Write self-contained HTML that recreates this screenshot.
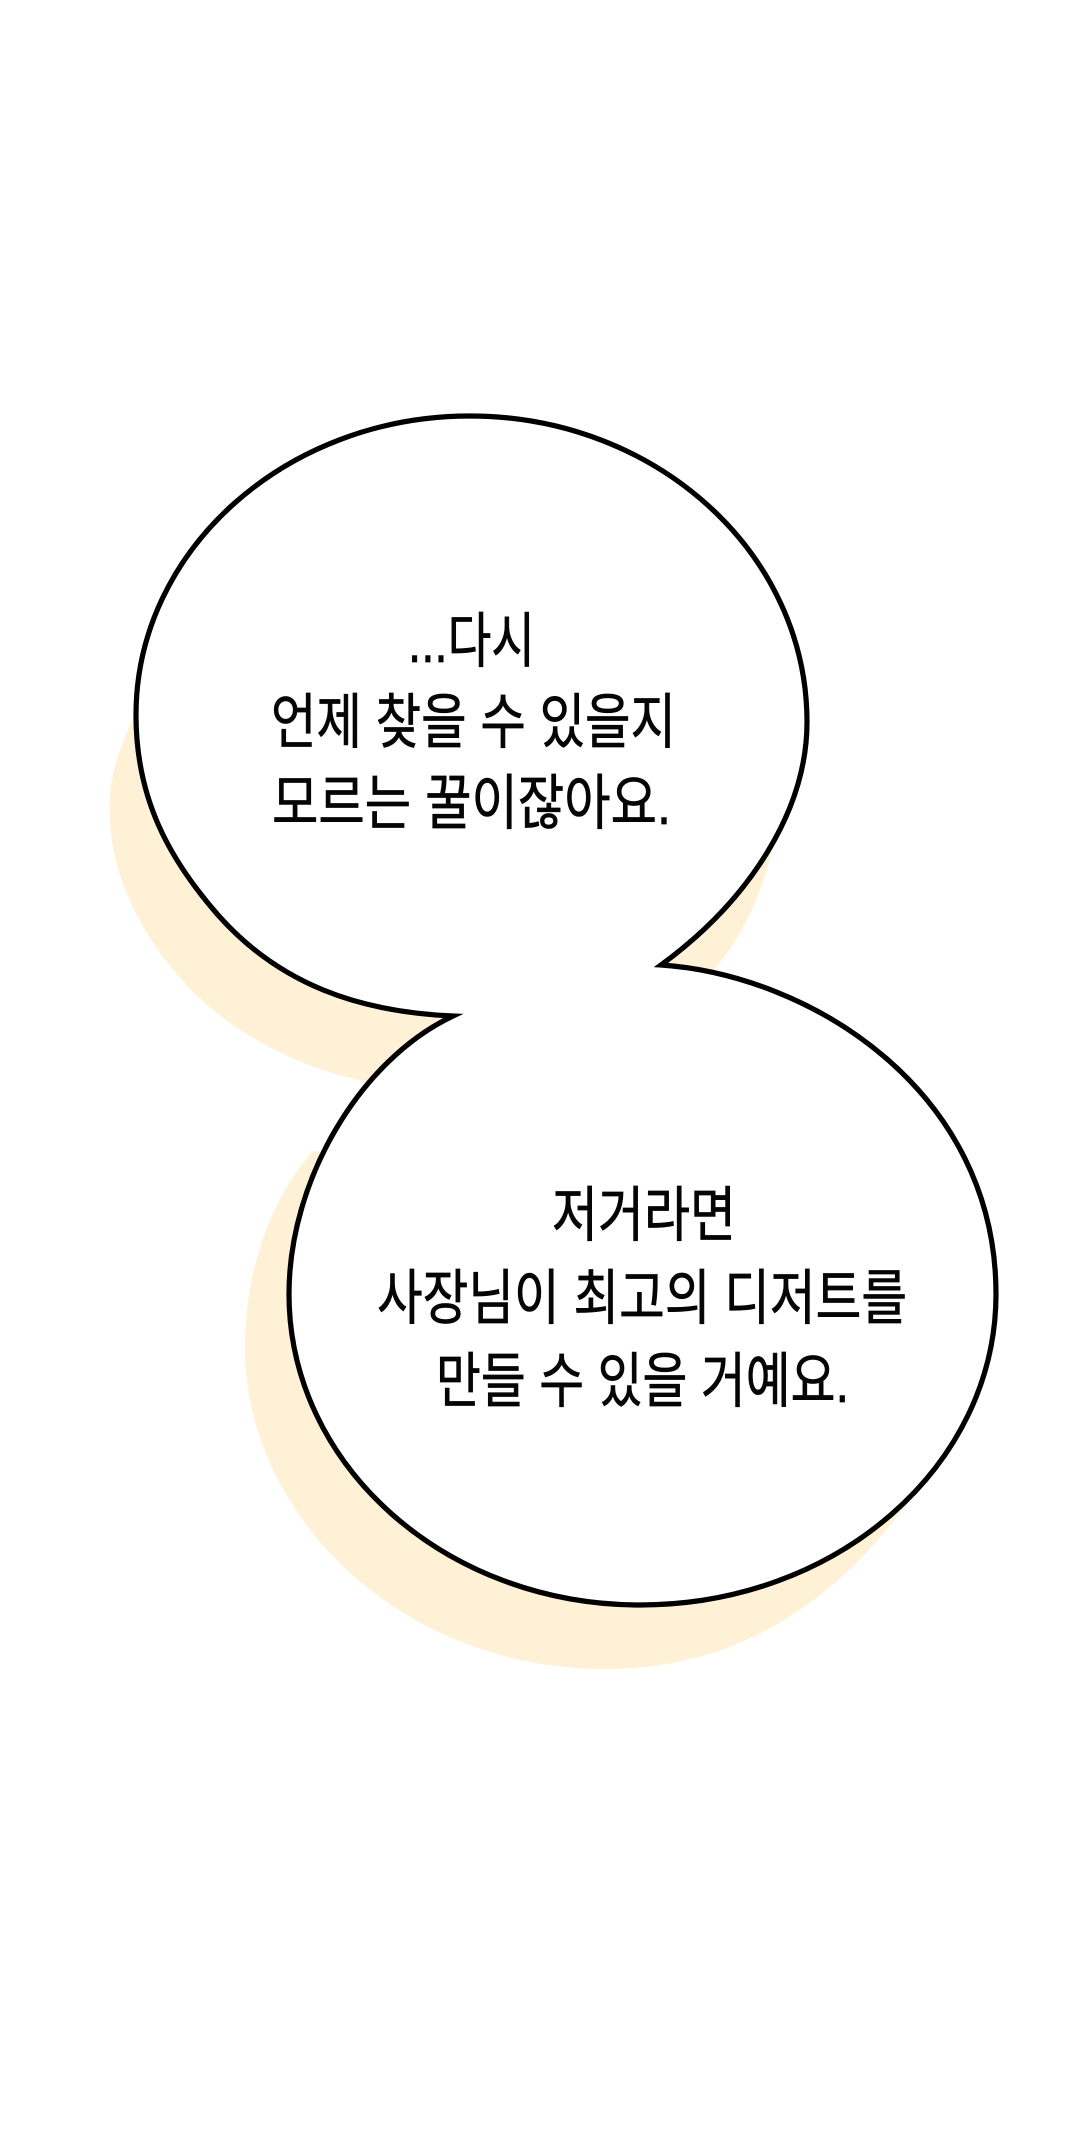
<!DOCTYPE html>
<html><head><meta charset="utf-8"><style>html,body{margin:0;padding:0;background:#fff}svg{display:block}text{font-family:"Liberation Sans","Noto Sans CJK KR",sans-serif;font-size:60px;fill:#050505;stroke:#050505;stroke-width:.7px}</style></head>
<body><svg width="1080" height="2134" viewBox="0 0 1080 2134" xmlns="http://www.w3.org/2000/svg">
<rect width="1080" height="2134" fill="#fff"/>
<path fill="#FFF1D6" d="M137 710C118 750 108 780 110 811C108 885 160 975 233 1025C275 1054 320 1072 368 1082L712 972C740 940 760 900 772 850L600 700Z"/>
<path fill="#FFF1D6" d="M313 1151C270 1200 245 1270 245 1349C245 1510 395 1669 606 1669C730 1669 840 1610 930 1470L700 1200Z"/>
<path fill="#fff" stroke="#000" stroke-width="5.2" stroke-linejoin="miter" stroke-miterlimit="8" d="M453 1016C360 1012 280 985 218 915C170 860 136 800 136 715C136 550 286 416 470 416C656 416 807 553 807 722C807 810 750 900 661 965C810 975 996 1090 996 1294C996 1466 837 1605 640 1605C446 1605 289 1466 289 1294C289 1180 360 1060 453 1016Z"/>
<text x="408" y="662" textLength="127" lengthAdjust="spacingAndGlyphs">...다시</text>
<text x="271" y="743" textLength="405" lengthAdjust="spacingAndGlyphs">언제 찾을 수 있을지</text>
<text x="272" y="824" textLength="399" lengthAdjust="spacingAndGlyphs">모르는 꿀이잖아요.</text>
<text x="552" y="1236" textLength="184" lengthAdjust="spacingAndGlyphs">저거라면</text>
<text x="377" y="1319" textLength="530" lengthAdjust="spacingAndGlyphs">사장님이 최고의 디저트를</text>
<text x="436" y="1402" textLength="413" lengthAdjust="spacingAndGlyphs">만들 수 있을 거예요.</text>
</svg></body></html>
